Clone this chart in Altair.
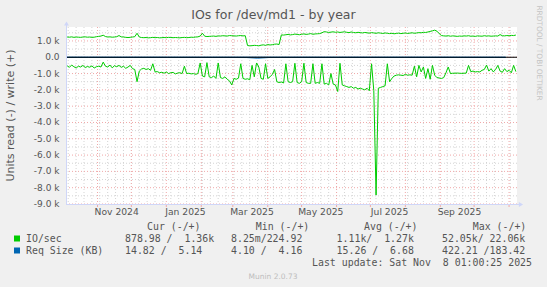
import altair as alt
import pandas as pd

# ---------------- data ----------------
# IO/sec, 2-day samples, in thousands (write shown +, read shown -)
write_k = [
    1.24, 1.23, 1.25, 1.22, 1.24, 1.23, 1.22, 1.24, 1.25, 1.23, 1.24, 1.22, 1.23, 1.26, 1.28, 1.30,
    1.35, 1.27, 1.24, 1.25, 1.23, 1.24, 1.26, 1.33, 1.25, 1.24, 1.22, 1.21, 1.22, 1.24, 1.26, 1.47,
    1.24, 1.21, 1.20, 1.21, 1.19, 1.20, 1.22, 1.20, 1.21, 1.19, 1.20, 1.21, 1.20, 1.22, 1.21, 1.20,
    1.21, 1.20, 1.19, 1.21, 1.22, 1.20, 1.21, 1.23, 1.22, 1.24, 1.25, 1.30, 1.47, 1.29, 1.27, 1.28,
    1.29, 1.30, 1.28, 1.31, 1.30, 1.32, 1.31, 1.30, 1.33, 1.32, 1.31, 1.30, 1.32, 1.33, 1.31, 1.32,
    0.72, 0.70, 0.71, 0.73, 0.72, 0.70, 0.74, 0.76, 0.73, 0.78, 0.75, 0.77, 0.80, 0.81, 0.78, 1.37,
    1.36, 1.38, 1.40, 1.37, 1.39, 1.42, 1.40, 1.38, 1.41, 1.43, 1.40, 1.42, 1.45, 1.41, 1.43, 1.44,
    1.45, 1.50, 1.57, 1.55, 1.52, 1.54, 1.56, 1.53, 1.55, 1.52, 1.54, 1.56, 1.53, 1.51, 1.55, 1.52,
    1.50, 1.53, 1.51, 1.49, 1.52, 1.50, 1.48, 1.51, 1.49, 1.47, 1.50, 1.48, 1.46, 1.49, 1.47, 1.45,
    1.47, 1.44, 1.46, 1.48, 1.45, 1.47, 1.49, 1.46, 1.48, 1.50, 1.47, 1.49, 1.51, 1.50, 1.53, 1.52,
    1.55, 1.58, 1.62, 1.66, 1.60, 1.45, 1.33, 1.31, 1.30, 1.32, 1.29, 1.31, 1.30, 1.28, 1.30, 1.29,
    1.31, 1.30, 1.32, 1.29, 1.30, 1.28, 1.31, 1.30, 1.29, 1.32, 1.30, 1.31, 1.29, 1.30, 1.31, 1.30,
    1.39, 1.32, 1.31, 1.33, 1.32, 1.34, 1.33, 1.36,
]
read_k = [
    0.52, 0.62, 0.48, 0.58, 0.66, 0.55, 0.60, 0.50, 0.63, 0.57, 0.61, 0.53, 0.66, 0.58, 0.55, 0.60,
    0.30, 0.55, 0.60, 0.48, 0.65, 0.52, 0.58, 0.50, 0.62, 0.55, 0.68, 0.60, 0.50, 0.70, 0.75, 1.50,
    0.85, 0.72, 0.68, 0.75, 0.70, 0.80, 0.40, 0.90, 0.88, 0.95, 0.92, 0.98, 0.90, 1.00, 0.95, 0.93,
    1.02, 0.97, 0.95, 1.00, 0.55, 1.00, 0.98, 1.02, 1.00, 1.05, 1.00, 0.35, 1.15, 1.20, 0.33, 1.20,
    1.25, 1.15, 1.30, 0.35, 1.25, 1.30, 1.20, 1.35, 1.45, 1.70, 1.30, 1.35, 1.28, 0.40, 1.30, 1.35,
    1.32, 1.38, 0.50, 1.20, 0.35, 0.60, 1.30, 1.35, 0.40, 1.30, 1.20, 1.05, 0.75, 1.50, 1.55, 1.52,
    1.58, 0.40, 1.50, 1.55, 1.50, 0.37, 1.55, 1.60, 1.50, 0.37, 1.55, 1.60, 1.60, 0.40, 1.60, 1.55,
    1.60, 0.40, 1.65, 1.60, 1.70, 1.00, 1.65, 1.70, 2.10, 0.37, 1.70, 1.75, 1.80, 1.85, 1.80, 1.90,
    1.85, 1.95, 1.90, 1.95, 2.00, 1.90, 2.05, 0.40, 2.05, 8.45, 1.90, 1.85, 1.80, 1.75, 0.40, 1.50,
    1.30, 1.15, 1.10, 1.08, 1.10, 1.12, 1.05, 1.10, 1.08, 1.10, 0.55, 1.20, 0.50, 0.90, 0.60, 1.30,
    0.70, 1.35, 0.50, 1.10, 1.25, 1.27, 1.30, 1.25, 0.95, 0.60, 1.00, 0.98, 0.98, 0.97, 0.98, 0.99,
    0.98, 0.97, 0.50, 0.88, 0.85, 0.90, 0.88, 0.90, 0.80, 0.75, 0.48, 0.85, 0.70, 0.90, 0.75, 0.50,
    0.85, 0.92, 0.70, 0.88, 0.80, 0.95, 0.50, 0.88,
]
# Req Size (KB), 10-day samples
req_write = [6.5, 6.8, 7.0, 6.6, 6.9, 7.1, 6.7, 6.5, 6.8, 7.2, 6.9, 6.6, 6.4, 6.8, 7.0, 6.7,
             6.9, 7.3, 6.8, 6.5, 6.6, 6.9, 6.7, 6.4, 6.8, 7.0, 6.6, 6.5, 6.7, 6.9, 6.6, 6.8,
             6.5, 6.7, 6.6, 6.4, 6.5, 6.3, 5.8, 5.14]
req_read = [14.5, 15.2, 15.8, 14.9, 15.5, 16.1, 15.0, 14.7, 15.3, 15.9, 16.2, 15.4, 14.8, 15.6,
            15.1, 16.0, 17.5, 55.0, 16.8, 15.2, 15.7, 14.9, 15.3, 15.8, 16.4, 15.0, 14.6, 15.2,
            15.9, 15.5, 14.8, 15.1, 15.6, 14.9, 15.3, 15.0, 14.7, 15.4, 15.1, 14.82]

y_major = [-9000, -8000, -7000, -6000, -5000, -4000, -3000, -2000, -1000, 0, 1000]
y_minor = [-8500, -7500, -6500, -5500, -4500, -3500, -2500, -1500, -500, 500, 1500]
month_starts = ["2024-11-01", "2024-12-01", "2025-01-01", "2025-02-01", "2025-03-01",
                "2025-04-01", "2025-05-01", "2025-06-01", "2025-07-01", "2025-08-01",
                "2025-09-01", "2025-10-01", "2025-11-01"]
x_label_text = ["Nov 2024", "Jan 2025", "Mar 2025", "May 2025", "Jul 2025", "Sep 2025"]
x_label_at = ["2024-11-18", "2025-01-18", "2025-03-18", "2025-05-18", "2025-07-18", "2025-09-18"]

title = "IOs for /dev/md1 - by year"
y_title = "Units read (-) / write (+)"
watermark = "RRDTOOL / TOBI OETIKER"
legend_names = ["IO/sec", "Req Size (KB)"]
legend_colors = ["#00cc00", "#0066b3"]
col_headers = ["Cur (-/+)", "Min (-/+)", "Avg (-/+)", "Max (-/+)"]
col_values = [
    ["878.98 /  1.36k", "  8.25m/224.92", "  1.11k/  1.27k", " 52.05k/ 22.06k"],
    [" 14.82 /  5.14", "  4.10 /  4.16", " 15.26 /  6.68", "422.21 /183.42"],
]
last_update = "Last update: Sat Nov  8 01:00:25 2025"
version = "Munin 2.0.73"

# ---------------- helpers ----------------
START = pd.Timestamp("2024-10-04 01:00")
SPAN_DAYS = 400


def day(s):
    return (pd.Timestamp(s) - START) / pd.Timedelta(days=1)


FG = "#555555"
AXIS_C = "#cfd6f8"
GRID_C = "#d4d4d4"
MGRID_C = "#f0a8a8"
W, H = 451, 177

xs = alt.Scale(domain=[0, SPAN_DAYS], nice=False, zero=False)
ys = alt.Scale(domain=[-9000, 1855], nice=False, zero=False)


def nb(s):
    return s.replace(" ", "\u00a0")


def txt(s, x, y, size, color=FG, font="DejaVu Sans", align="left", angle=0):
    kw = dict(align=align, baseline="middle", font=font, fontSize=size, color=color)
    if angle:
        kw["angle"] = angle
    return alt.Chart(pd.DataFrame({"t": [nb(s)]})).mark_text(**kw).encode(
        x=alt.value(x), y=alt.value(y), text="t:N")


io = pd.DataFrame({
    "day": [2 * i + 1 for i in range(len(write_k))],
    "write": [v * 1000 for v in write_k],
    "read": [-v * 1000 for v in read_k],
})
req = pd.DataFrame({
    "day": [10 * j for j in range(len(req_write))],
    "write": req_write,
    "read": [-v for v in req_read],
})
weeks = [day(d) for d in pd.date_range("2024-10-06", "2025-11-08", freq="7D")]
months = [day(d) for d in month_starts]

layers = []
# grid
layers.append(alt.Chart(pd.DataFrame({"d": weeks})).mark_rule(
    color=GRID_C, strokeDash=[1, 2], strokeWidth=1).encode(x=alt.X("d:Q", scale=xs, axis=None)))
layers.append(alt.Chart(pd.DataFrame({"v": y_minor})).mark_rule(
    color=GRID_C, strokeDash=[1, 2], strokeWidth=1).encode(y=alt.Y("v:Q", scale=ys, axis=None)))
layers.append(alt.Chart(pd.DataFrame({"d": months})).mark_rule(
    color=MGRID_C, strokeDash=[1, 2], strokeWidth=1).encode(x=alt.X("d:Q", scale=xs, axis=None)))
layers.append(alt.Chart(pd.DataFrame({"v": y_major})).mark_rule(
    color=MGRID_C, strokeDash=[1, 2], strokeWidth=1).encode(y=alt.Y("v:Q", scale=ys, axis=None)))
# month ticks under the x axis
layers.append(alt.Chart(pd.DataFrame({"d": months})).mark_rule(
    color=MGRID_C, strokeWidth=1).encode(x=alt.X("d:Q", scale=xs, axis=None),
                                          y=alt.value(H), y2=alt.value(H + 3)))
# series
for col in ["write", "read"]:
    layers.append(alt.Chart(req).mark_line(color=legend_colors[1], strokeWidth=1).encode(
        x=alt.X("day:Q", scale=xs, axis=None), y=alt.Y(f"{col}:Q", scale=ys, axis=None)))
for col in ["write", "read"]:
    layers.append(alt.Chart(io).mark_line(color=legend_colors[0], strokeWidth=1).encode(
        x=alt.X("day:Q", scale=xs, axis=None), y=alt.Y(f"{col}:Q", scale=ys, axis=None)))
# zero line
layers.append(alt.Chart(pd.DataFrame({"v": [0]})).mark_rule(color="black", strokeWidth=1).encode(
    y=alt.Y("v:Q", scale=ys, axis=None)))
# axes lines + arrows
dummy = pd.DataFrame({"a": [0]})
layers.append(alt.Chart(dummy).mark_rule(color=AXIS_C, strokeWidth=1).encode(
    x=alt.value(0.5), y=alt.value(-2), y2=alt.value(H)))
layers.append(alt.Chart(dummy).mark_rule(color=AXIS_C, strokeWidth=1).encode(
    x=alt.value(0), x2=alt.value(W + 2), y=alt.value(H + 0.5)))
layers.append(alt.Chart(dummy).mark_point(shape="triangle-up", filled=True, size=24,
                                          color=AXIS_C, opacity=1).encode(
    x=alt.value(0.5), y=alt.value(-3.5)))
layers.append(alt.Chart(dummy).mark_point(shape="triangle-right", filled=True, size=24,
                                          color=AXIS_C, opacity=1).encode(
    x=alt.value(W + 4), y=alt.value(H + 0.5)))
# y labels
ylab = pd.DataFrame({"v": y_major,
                     "lab": [nb("0.0  ") if v == 0 else f"{v / 1000:.1f} k" for v in y_major]})
layers.append(alt.Chart(ylab).mark_text(align="right", baseline="middle", font="DejaVu Sans",
                                        fontSize=9, color=FG).encode(
    x=alt.value(-6.5), y=alt.Y("v:Q", scale=ys, axis=None), text="lab:N"))
# x labels
xlab = pd.DataFrame({"d": [day(d) for d in x_label_at], "lab": x_label_text})
layers.append(alt.Chart(xlab).mark_text(align="center", baseline="middle", font="DejaVu Sans",
                                        fontSize=9.2, color=FG).encode(
    x=alt.X("d:Q", scale=xs, axis=None), y=alt.value(185), text="lab:N"))
# titles
layers.append(txt(title, 207.5, -12, 12.5, align="center"))
layers.append(txt(y_title, -55, 88.5, 11, align="center", angle=270))
layers.append(txt(watermark, 472.5, 26, 7.4, color="#c4c4c4", align="center", angle=90))
# legend
MONO = "DejaVu Sans Mono"
head_x = [81, 189.8, 298, 406.8]
val_x = [59, 165, 270.6, 376]
row_y = [211.5, 223.5]
for h, hx in zip(col_headers, head_x):
    layers.append(txt(h, hx, 199.5, 9.9, font=MONO))
for r, (name, colr) in enumerate(zip(legend_names, legend_colors)):
    layers.append(alt.Chart(dummy).mark_rect(color=colr).encode(
        x=alt.value(-52), x2=alt.value(-46), y=alt.value(row_y[r] - 3), y2=alt.value(row_y[r] + 3)))
    layers.append(txt(name, -40, row_y[r], 9.9, font=MONO))
    for v, vx in zip(col_values[r], val_x):
        layers.append(txt(v, vx, row_y[r], 9.9, font=MONO))
layers.append(txt(last_update, 466, 235.5, 9.9, font=MONO, align="right"))
layers.append(txt(version, 207, 250, 7.5, color="#bdbdbd", align="center"))

chart = alt.layer(*layers).properties(
    width=W, height=H,
    autosize=alt.AutoSizeParams(type="none"),
    padding={"left": 66, "top": 27, "right": 30, "bottom": 83},
    background="#f0f0f0",
).configure_view(fill="white", strokeWidth=0)

chart.save("out.html", embed_options={"renderer": "svg", "actions": False})
